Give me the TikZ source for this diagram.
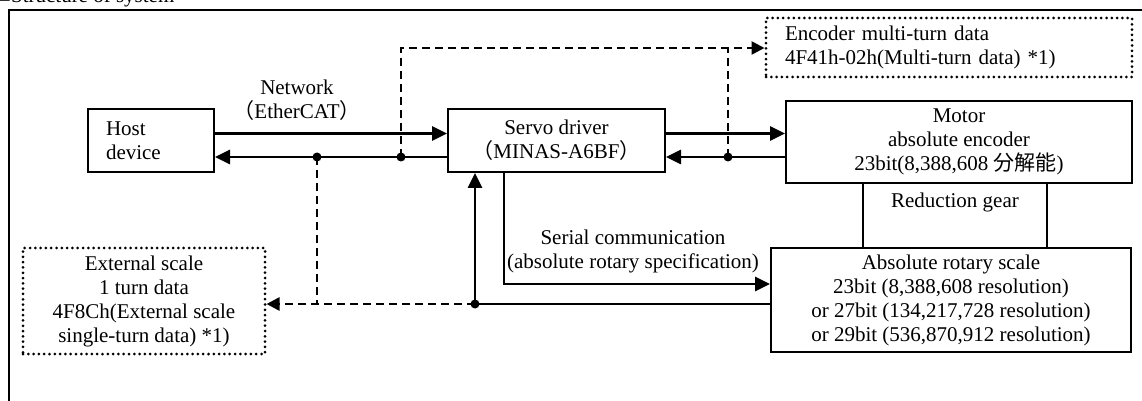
\documentclass[tikz,border=0pt]{standalone}
\usepackage{fontspec}
\setmainfont{Liberation Serif}
\newfontfamily\cjk{Noto Sans CJK JP}
\usetikzlibrary{arrows.meta}
\begin{document}
\begin{tikzpicture}[x=0.5pt,y=-0.5pt,
  every node/.style={font=\fontsize{10.5}{12}\selectfont, inner sep=0pt},
  box/.style={draw, line width=1pt, align=center},
  dotbox/.style={draw, line width=1.5pt, dash pattern=on 0pt off 2.65pt, line cap=round, align=center},
  conn/.style={line width=1.3pt},
  arr/.style={conn, -{Triangle[length=7.5pt,width=7pt]}},
  dsh/.style={conn, dash pattern=on 4pt off 2.5pt},
  darr/.style={dsh, -{Triangle[length=6.5pt,width=6.5pt]}},
  jdot/.style={fill}
]
\useasboundingbox (0,0) rectangle (1142,401);
\node[anchor=base west] (title) at (-2,2.5) {■Structure of system};
\draw[line width=1pt] (8.7,401) -- (8.7,10) -- (1142,10);

\node[box, minimum width=63pt, minimum height=31.5pt, text width=45pt, align=left] (host) at (151,140.5) {Host\\device};
\node[box, minimum width=108.5pt, minimum height=31.5pt] (servo) at (556.5,140.5) {Servo driver\\{\cjk （}MINAS-A6BF{\cjk ）}};
\node[dotbox, minimum width=183pt, minimum height=29.5pt, text width=164pt, align=left] (encm) at (949,47.5) {Encoder multi-turn data\\4F41h-02h(Multi-turn data) *1)};
\node[box, minimum width=173pt, minimum height=41pt] (motor) at (959,142) {Motor\\absolute encoder\\23bit(8,388,608 {\cjk 分解能})};
\node[box, minimum width=180pt, minimum height=52pt] (abs) at (951,300) {Absolute rotary scale\\23bit (8,388,608 resolution)\\or 27bit (134,217,728 resolution)\\or 29bit (536,870,912 resolution)};
\node[dotbox, minimum width=121pt, minimum height=53pt] (ext) at (144,301) {External scale\\1 turn data\\4F8Ch(External scale\\single-turn data) *1)};

\node[align=center] (net) at (297,100) {Network\\{\cjk （}EtherCAT{\cjk ）}};
\node[anchor=base] (red) at (955,207) {Reduction gear};
\node[align=center] (ser) at (633,251) {Serial communication\\(absolute rotary specification)};

\coordinate (ya) at (0,133.5);
\coordinate (yb) at (0,157);
\coordinate (yd) at (0,48);
\coordinate (ys) at (0,284);
\coordinate (xs) at (504,0);
\coordinate (xr1) at (863,0);
\coordinate (xr2) at (1047,0);
\coordinate (j1) at (317,157);
\coordinate (j2) at (401,157);
\coordinate (j3) at (728,157);
\coordinate (j4) at (475,304);

\draw[arr] (host.east |- ya) -- (servo.west |- ya);
\draw[arr] (servo.west |- yb) -- (host.east |- yb);
\draw[arr] (servo.east |- ya) -- (motor.west |- ya);
\draw[arr] (motor.west |- yb) -- (servo.east |- yb);
\draw[darr] (j2) -- (j2 |- yd) -- (encm.west |- yd);
\draw[dsh] (j3) -- (j3 |- yd);
\draw[box] (motor.south -| xr1) -- (abs.north -| xr1);
\draw[box] (motor.south -| xr2) -- (abs.north -| xr2);
\draw[arr] (servo.south -| xs) -- (xs |- ys) -- (abs.west |- ys);
\draw[conn] (abs.west |- j4) -- (j4);
\draw[arr] (j4) -- (servo.south -| j4);
\draw[darr] (j4) -- (ext.east |- j4);
\draw[dsh] (j1) -- (j1 |- j4);
\foreach \j in {j1,j2,j3,j4} \fill[jdot] (\j) circle (2.25pt);
\end{tikzpicture}
\end{document}
